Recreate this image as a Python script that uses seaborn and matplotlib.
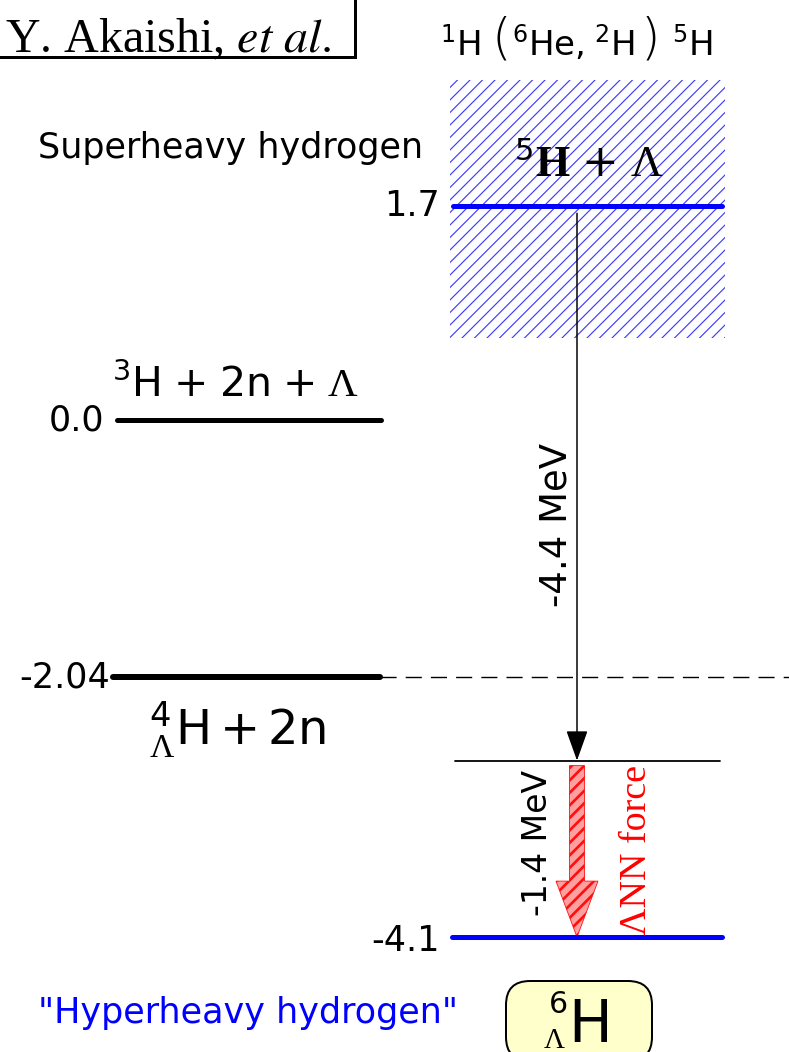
import numpy as np
import pandas as pd
import seaborn as sns
import matplotlib.pyplot as plt
from matplotlib.patches import FancyArrow, FancyBboxPatch, Rectangle

# energy levels in MeV, measured from the 3H + 2n + Lambda threshold
left_levels = [0.0, -2.04]
left_labels = ["0.0", "-2.04"]
right_levels = [1.7, -2.7, -4.1]
right_labels = ["1.7", "", "-4.1"]
h5_band = [0.65, 2.7]  # broad 5H resonance (hatched)
shift_5h = -4.4   # 5H + Lambda -> 6H without LambdaNN force
shift_lnn = -1.4  # extra binding from LambdaNN force

sns.set_theme(style="white")
plt.rcParams["font.family"] = ["DejaVu Sans"]
plt.rcParams["text.color"] = "black"
plt.rcParams["mathtext.fontset"] = "custom"
plt.rcParams["mathtext.rm"] = "DejaVu Sans"
plt.rcParams["mathtext.it"] = "DejaVu Sans:italic"
plt.rcParams["mathtext.bf"] = "DejaVu Sans:bold"
plt.rcParams["mathtext.sf"] = "Liberation Serif"
plt.rcParams["mathtext.cal"] = "Liberation Serif:bold"
plt.rcParams["hatch.linewidth"] = 0.55

DPI = 150
W, H = 789, 1052
PX = 126.1   # pixels per MeV
Y0 = 420.1   # pixel row of 0 MeV


def ey(p):
    return (Y0 - p) / PX


def lw(px):
    return px * 72 / DPI


def fs(px):
    return px * 72 / DPI


fig = plt.figure(figsize=(W / DPI, H / DPI), dpi=DPI)
lay = fig.add_axes([0, 0, 1, 1])
lay.set_xlim(0, W)
lay.set_ylim(H, 0)
lay.axis("off")
ax = fig.add_axes([0, 0, 1, 1])
ax.set_xlim(0, W)
ax.set_ylim(ey(H), ey(0))
ax.axis("off")

blue = "#0000ff"

# 5H continuum
ax.fill_between([450, 725], h5_band[0], h5_band[1], facecolor="none",
                edgecolor="#3a3aff", hatch="////", lw=0)

# levels
segs = pd.DataFrame({
    "x0": [117, 113, 453, 455, 452],
    "x1": [381, 380, 722, 720, 722],
    "e": left_levels + right_levels,
    "color": ["black", "black", blue, "black", blue],
    "w": [5, 6, 5, 1.8, 5],
})
for _, r in segs.iterrows():
    sns.lineplot(x=[r.x0, r.x1], y=[r.e, r.e], color=r.color, lw=lw(r.w),
                 ax=ax, legend=False)
ax.plot([380, W], [left_levels[1]] * 2, color="black", lw=lw(1.4),
        dashes=(11.5, 6.5))

# level values
for e, t, x in zip(left_levels, left_labels, [104, 110]):
    ax.text(x, e, t, ha="right", va="center", fontsize=fs(35))
for e, t in zip(right_levels, right_labels):
    if t:
        ax.text(440, e - 0.03 if e < -3 else e, t, ha="right",
                va="center", fontsize=fs(35))

# transitions
e_mid = right_levels[0] + shift_5h
ax.annotate("", xy=(577, e_mid), xytext=(577, right_levels[0] - 0.06),
            arrowprops=dict(arrowstyle="-|>,head_length=0.42,head_width=0.15",
                            color="black", lw=lw(1.5), mutation_scale=30,
                            shrinkA=0, shrinkB=0))
ax.text(556, ey(525), f"{shift_5h} MeV", rotation=90, ha="center",
        va="center", fontsize=fs(37))

top = e_mid - 0.04
with plt.rc_context({"hatch.linewidth": 1.3}):
    ax.add_patch(FancyArrow(577, top, 0, (e_mid + shift_lnn) - top, width=15,
                            head_width=42, head_length=56 / PX,
                            length_includes_head=True, facecolor="#ffa0a0",
                            edgecolor="#ff1010", hatch="////", lw=0.4))
ax.text(538, ey(843), f"{shift_lnn} MeV", rotation=90, ha="center",
        va="center", fontsize=fs(33))
ax.text(637, ey(850), "\u039bNN force", rotation=90, ha="center",
        va="center", fontsize=fs(38), color="red",
        family=["Liberation Serif"])

# labels
ax.text(514, ey(177), r"$^{5}\mathcal{H}\;{+}\;\mathsf{\Lambda}$",
        ha="left", va="baseline", fontsize=fs(44))
ax.text(38, ey(148), "Superheavy hydrogen", ha="left", va="center",
        fontsize=fs(35))
ax.text(112, ey(397),
        r"$^{3}\mathrm{H}\;{+}\;2\mathrm{n}\;{+}\;\mathsf{\Lambda}$",
        ha="left", va="baseline", fontsize=fs(41))
ax.text(149, ey(745),
        r"${}^{4}_{\mathsf{\Lambda}}\mathrm{H}\,{+}\,2\mathrm{n}$",
        ha="left", va="baseline", fontsize=fs(48))
ax.text(38, ey(1013), '"Hyperheavy hydrogen"', ha="left", va="center",
        fontsize=fs(35), color=blue)

# reaction 1H(6He, 2H)5H
for x, t, ha in [(481, r"$^{1}\mathrm{H}$", "right"),
                 (512, r"$^{6}\mathrm{He},$", "left"),
                 (594, r"$^{2}\mathrm{H}$", "left"),
                 (672, r"$^{5}\mathrm{H}$", "left")]:
    ax.text(x, ey(55), t, ha=ha, va="baseline", fontsize=fs(34))
for x, p in [(501, "("), (650, ")")]:
    ax.text(x, ey(40), p, ha="center", va="center", fontsize=fs(50),
            fontweight="light")

# author box
lay.add_patch(Rectangle((-6, -6), 361, 63, facecolor="white",
                        edgecolor="black", lw=lw(3)))
lay.text(5, 52, r"Y. Akaishi, $\mathit{et\ al.}$", ha="left",
         va="baseline", fontsize=fs(48), family=["Liberation Serif"],
         math_fontfamily="stix")

# 6H box
lay.add_patch(FancyBboxPatch((506, 981), 146, 80,
                             boxstyle="round,pad=0,rounding_size=24",
                             facecolor="#ffffcc", edgecolor="black",
                             lw=lw(2)))
lay.text(588, 1042, r"$\mathrm{H}$", ha="center", va="baseline",
         fontsize=fs(58))
lay.text(558, 1013, r"$6$", ha="center", va="baseline", fontsize=fs(30))
lay.text(554, 1048, r"$\mathsf{\Lambda}$", ha="center", va="baseline",
         fontsize=fs(29))

fig.savefig("out.png", dpi=DPI)
